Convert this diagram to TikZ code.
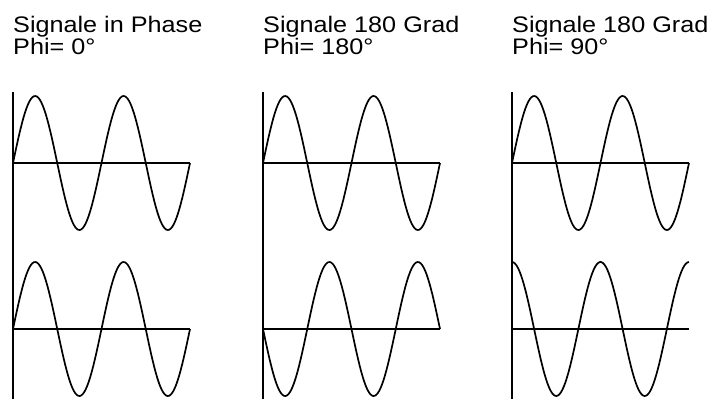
\documentclass[tikz,border=0pt]{standalone}
\usepackage{fontspec}
\setmainfont{Liberation Sans}[FakeStretch=1.12]
\usepackage{tikz}

\begin{document}
\begin{tikzpicture}[x=1pt,y=-1pt,
  title/.style={anchor=base west,inner sep=0pt,align=left,font=\fontsize{22.5}{22}\selectfont},
  axis/.style={line width=1.9pt},
  wave/.style={line width=1.7pt,samples=120,variable=\a}]
  \useasboundingbox (0,0) rectangle (712,399);
  \foreach \x/\lab/\ph [count=\i] in {13/in Phase/0,263/180 Grad/180,512/180 Grad/90} {
    \node[title] (title\i) at (\x,54) {Signale \lab\\Phi= \ph°};
    \draw[axis] (\x,92) -- (\x,399);
    \draw[axis] (\x,163) -- +(177,0);
    \draw[axis] (\x,329) -- +(177,0);
    \draw[wave,domain=0:720] plot ({\x+\a/720*177},{163-67*sin(\a)});
    \draw[wave,domain=0:720] plot ({\x+\a/720*177},{329-67*sin(\a+\ph)});
  }
\end{tikzpicture}
\end{document}
